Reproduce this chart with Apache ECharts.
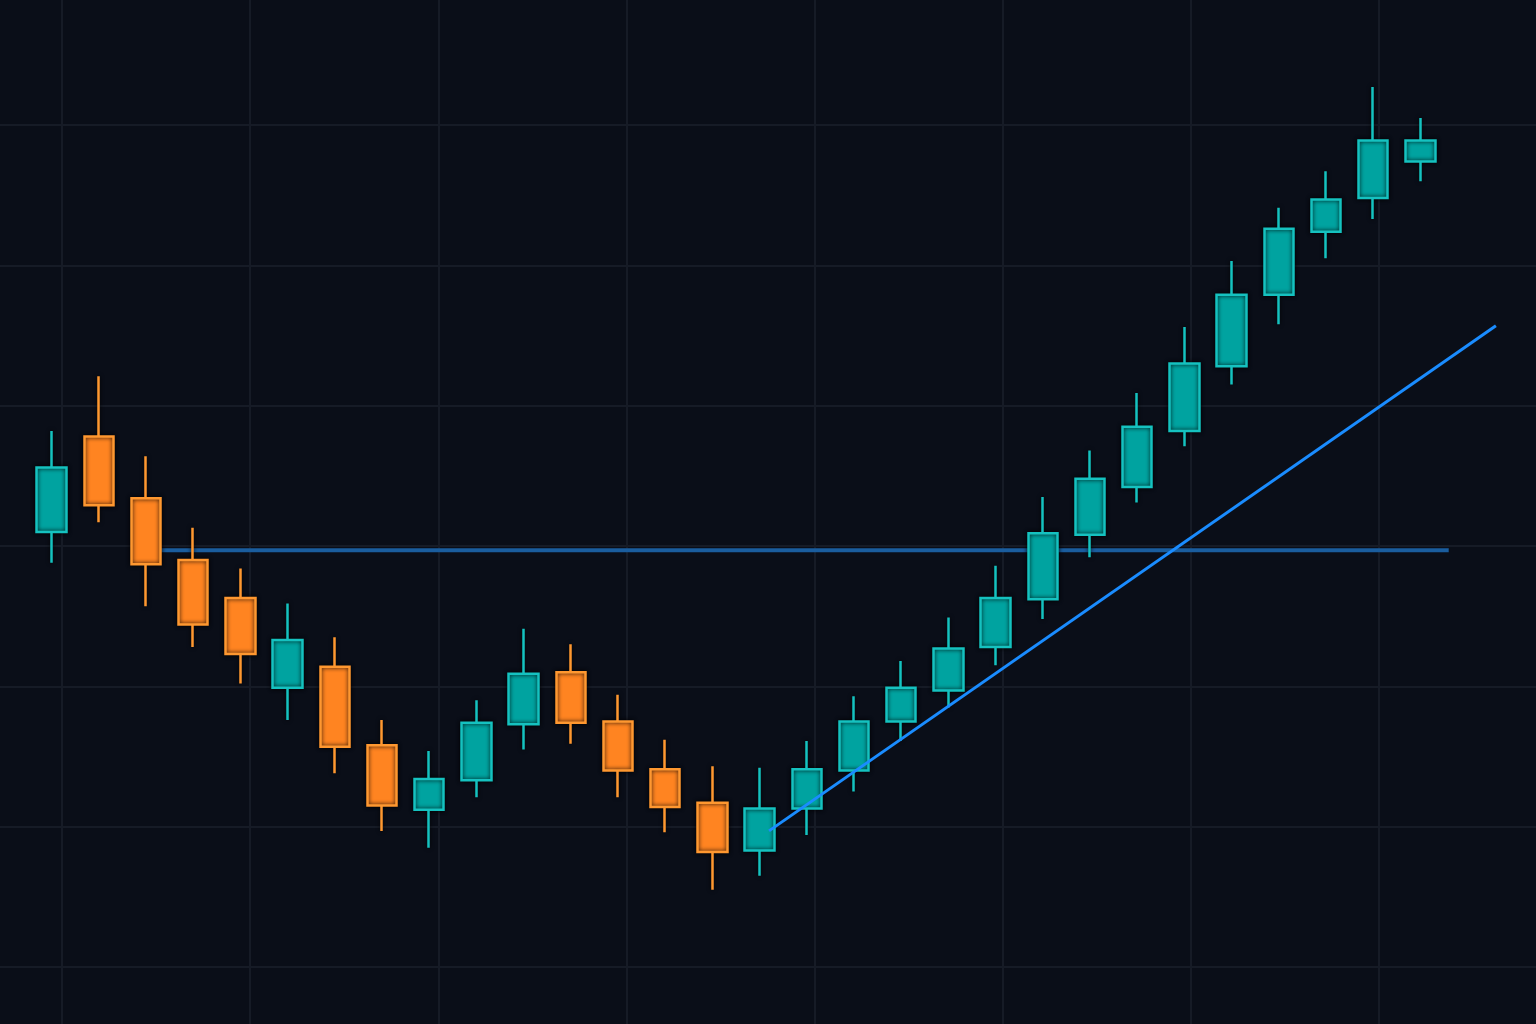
<!DOCTYPE html>
<html>
<head>
<meta charset="utf-8">
<script src="https://cdn.jsdelivr.net/npm/echarts@6/dist/echarts.min.js"></script>
<style>
  html, body { margin: 0; padding: 0; background: #0a0e18; }
  #chart { width: 1536px; height: 1024px; }
</style>
</head>
<body>
<div id="chart"></div>
<script>
// 30 sessions, values
const sessions = ['D1', 'D2', 'D3', 'D4', 'D5', 'D6', 'D7', 'D8', 'D9', 'D10',
  'D11', 'D12', 'D13', 'D14', 'D15', 'D16', 'D17', 'D18', 'D19', 'D20',
  'D21', 'D22', 'D23', 'D24', 'D25', 'D26', 'D27', 'D28', 'D29', 'D30'];
const opens  = [131.0, 137.8, 133.4, 129.0, 126.3, 119.9, 121.4, 115.8, 111.2, 113.3,
  117.3, 121.0, 117.5, 114.1, 111.7, 108.3, 111.3, 114.0, 117.5, 119.7,
  122.8, 126.2, 130.8, 134.2, 138.2, 142.8, 147.9, 152.4, 154.8, 157.4];
const closes = [135.6, 132.9, 128.7, 124.4, 122.3, 123.3, 115.7, 111.5, 113.4, 117.4,
  120.9, 117.4, 114.0, 111.4, 108.2, 111.3, 114.1, 117.5, 119.9, 122.7,
  126.3, 130.9, 134.8, 138.5, 143.0, 147.9, 152.6, 154.7, 158.9, 158.9];
const lows   = [128.8, 131.7, 125.7, 122.8, 120.2, 117.6, 113.8, 109.7, 108.5, 112.1,
  115.5, 115.9, 112.1, 109.6, 105.5, 106.5, 109.4, 112.5, 116.1, 118.5,
  121.5, 124.8, 129.2, 133.1, 137.1, 141.5, 145.8, 150.5, 153.3, 156.0];
const highs  = [138.2, 142.1, 136.4, 131.3, 128.4, 125.9, 123.5, 117.6, 115.4, 119.0,
  124.1, 123.0, 119.4, 116.2, 114.3, 114.2, 116.1, 119.3, 121.8, 124.9,
  128.6, 133.5, 136.8, 140.9, 145.6, 150.3, 154.1, 156.7, 162.7, 160.5];

// resistance level and rising trend line (x in session index units)
const levelPrice = 129.7;
const levelX = [2, 29.6];
const trendX = [15.2, 30.6];
const trendY = [109.7, 145.7];

const priceMin = 100;
const priceMax = 160;
const priceStep = 10;

const chart = echarts.init(document.getElementById('chart'));

const hidden = {
  axisLine: { show: false },
  axisTick: { show: false },
  axisLabel: { show: false },
  splitLine: { show: false }
};
const gridLine = { show: true, lineStyle: { color: '#161b26', width: 2 } };

// the overlay grid is 1.5 sessions wider on the right than the candle grid,
// so the trend line can run past the last candle
const slot = (1536 - 28 - 92) / sessions.length;

chart.setOption({
  backgroundColor: '#0a0e18',
  animation: false,
  grid: [
    { left: 28, right: 92, top: 125, bottom: 57 },               // candles
    { left: 0, right: 0, top: 125, bottom: 57 },                 // horizontal grid lines
    { left: 62, right: 157, top: 0, bottom: 0 },                 // vertical grid lines
    { left: 28, right: 92 - 1.5 * slot, top: 125, bottom: 57 }   // level + trend lines
  ],
  xAxis: [
    { type: 'category', gridIndex: 0, data: sessions, boundaryGap: true, ...hidden },
    { type: 'value', gridIndex: 3, min: -0.5, max: sessions.length + 1, ...hidden },
    { type: 'value', gridIndex: 1, min: 0, max: 1, ...hidden },
    { type: 'value', gridIndex: 2, min: 0, max: 7, interval: 1, ...hidden, splitLine: gridLine }
  ],
  yAxis: [
    { type: 'value', gridIndex: 0, min: priceMin, max: priceMax, ...hidden },
    { type: 'value', gridIndex: 1, min: priceMin, max: priceMax, interval: priceStep, ...hidden, splitLine: gridLine },
    { type: 'value', gridIndex: 2, min: 0, max: 1, ...hidden },
    { type: 'value', gridIndex: 3, min: priceMin, max: priceMax, ...hidden }
  ],
  series: [
    {
      name: 'level',
      type: 'line',
      xAxisIndex: 1,
      yAxisIndex: 3,
      data: levelX.map(x => [x, levelPrice]),
      symbol: 'none',
      z: 2,
      lineStyle: { color: '#1a5d9e', width: 4 }
    },
    {
      name: 'price',
      type: 'candlestick',
      xAxisIndex: 0,
      yAxisIndex: 0,
      barWidth: 30,
      clip: false,
      z: 3,
      data: sessions.map((_, i) => [opens[i], closes[i], lows[i], highs[i]]),
      itemStyle: {
        color: '#00a3a0',
        color0: '#ff8421',
        borderColor: '#15c2c0',
        borderColor0: '#ff9830',
        borderWidth: 2.5,
        shadowColor: 'rgba(0, 0, 0, 0.9)',
        shadowBlur: 4
      }
    },
    {
      name: 'trend',
      type: 'line',
      xAxisIndex: 1,
      yAxisIndex: 3,
      data: trendX.map((x, i) => [x, trendY[i]]),
      symbol: 'none',
      z: 4,
      lineStyle: { color: '#1a8cff', width: 3 }
    }
  ]
});
</script>
</body>
</html>
